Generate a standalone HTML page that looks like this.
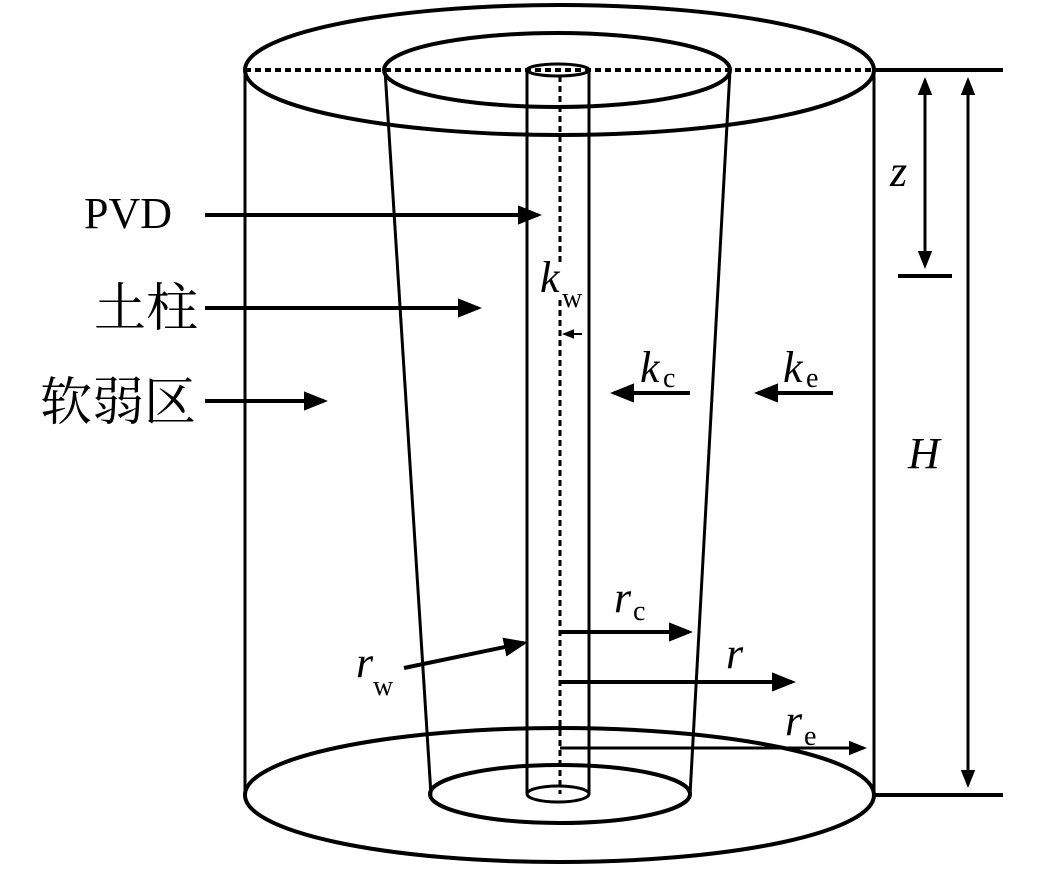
<!DOCTYPE html>
<html><head><meta charset="utf-8"><style>body{margin:0;background:#fff}
text{font-family:"Liberation Serif","Times New Roman","Noto Serif CJK SC",serif}
</style></head><body>
<svg width="1063" height="866" viewBox="0 0 1063 866" xmlns="http://www.w3.org/2000/svg">
<defs><marker id="a" markerWidth="6" markerHeight="6" refX="5" refY="3" orient="auto-start-reverse" markerUnits="strokeWidth"><path d="M0,0.6 L6,3 L0,5.4z" fill="#000"/></marker></defs>
<g fill="none" stroke="#000">
<ellipse cx="559.5" cy="70" rx="314.5" ry="65" stroke-width="4"/>
<ellipse cx="557" cy="70" rx="173" ry="37" stroke-width="4"/>
<ellipse cx="559.5" cy="795" rx="314.5" ry="67" stroke-width="4"/>
<ellipse cx="560" cy="794" rx="130" ry="29" stroke-width="4"/>
<ellipse cx="558" cy="70" rx="31" ry="6" stroke-width="3"/>
<ellipse cx="558" cy="794" rx="31" ry="8" stroke-width="3"/>
<line x1="245" y1="70" x2="245" y2="795" stroke-width="3"/>
<line x1="874" y1="70" x2="874" y2="795" stroke-width="3"/>
<line x1="385" y1="70" x2="431" y2="795" stroke-width="3"/>
<line x1="730" y1="70" x2="690" y2="795" stroke-width="3"/>
<line x1="527" y1="70" x2="527" y2="794" stroke-width="3"/>
<line x1="589" y1="70" x2="589" y2="794" stroke-width="3"/>
<line x1="245" y1="70" x2="874" y2="70" stroke-width="4" stroke-dasharray="6,4"/>
<line x1="560" y1="76" x2="560" y2="262" stroke-width="3" stroke-dasharray="6,4"/>
<line x1="560" y1="300" x2="560" y2="794" stroke-width="3" stroke-dasharray="6,4"/>
<line x1="874" y1="70" x2="1003" y2="70" stroke-width="4"/>
<line x1="874" y1="795" x2="1003" y2="795" stroke-width="4"/>
<line x1="898" y1="276" x2="952" y2="276" stroke-width="4"/>
<line x1="925" y1="80" x2="925" y2="266" stroke-width="3" marker-start="url(#a)" marker-end="url(#a)"/>
<line x1="968" y1="80" x2="968" y2="785" stroke-width="3" marker-start="url(#a)" marker-end="url(#a)"/>
<line x1="205" y1="215" x2="538" y2="215" stroke-width="4" marker-end="url(#a)"/>
<line x1="205" y1="308" x2="478" y2="308" stroke-width="4" marker-end="url(#a)"/>
<line x1="205" y1="401" x2="324" y2="401" stroke-width="4" marker-end="url(#a)"/>
<line x1="582" y1="334" x2="564" y2="334" stroke-width="2" marker-end="url(#a)"/>
<line x1="690" y1="393" x2="614" y2="393" stroke-width="4" marker-end="url(#a)"/>
<line x1="833" y1="393" x2="758" y2="393" stroke-width="4" marker-end="url(#a)"/>
<line x1="560" y1="632" x2="689" y2="632" stroke-width="4" marker-end="url(#a)"/>
<line x1="560" y1="682" x2="792" y2="682" stroke-width="4" marker-end="url(#a)"/>
<line x1="560" y1="748" x2="864" y2="748" stroke-width="3" marker-end="url(#a)"/>
<line x1="404" y1="668" x2="524" y2="643" stroke-width="4" marker-end="url(#a)"/>
</g>
<g font-size="44" fill="#000">
<text x="84" y="228">PVD</text>
<text x="94" y="326" font-size="52">土柱</text>
<text x="40" y="420" font-size="52">软弱区</text>
<text x="890" y="186" font-style="italic">z</text>
<text x="908" y="468" font-style="italic">H</text>
<text x="540" y="292" font-style="italic">k</text><text x="562" y="307" font-size="28">w</text>
<text x="640" y="382" font-style="italic">k</text><text x="663" y="387" font-size="28">c</text>
<text x="783" y="382" font-style="italic">k</text><text x="806" y="387" font-size="28">e</text>
<text x="614" y="612" font-style="italic">r</text><text x="633" y="620" font-size="28">c</text>
<text x="726" y="668" font-style="italic">r</text>
<text x="785" y="735" font-style="italic">r</text><text x="804" y="745" font-size="28">e</text>
<text x="356" y="677" font-style="italic">r</text><text x="373" y="695" font-size="28">w</text>
</g>
</svg>
</body></html>
